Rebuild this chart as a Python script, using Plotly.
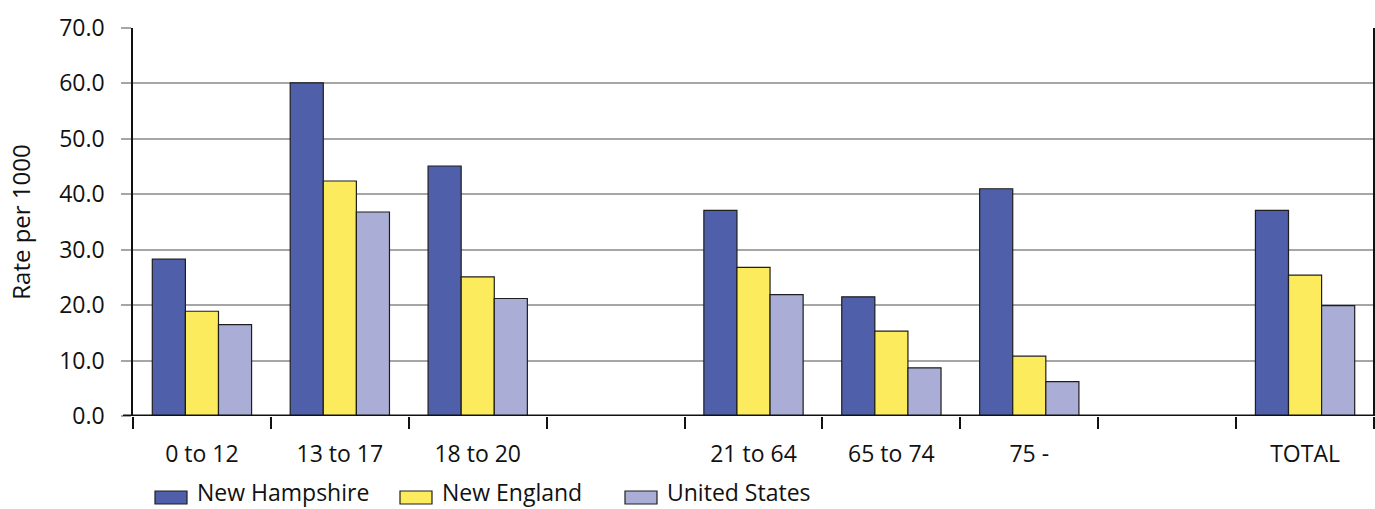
import plotly.graph_objects as go

# Age groups (blank slots separate the youth, adult and total groups)
categories = ["0 to 12", "13 to 17", "18 to 20", " ", "21 to 64", "65 to 74", "75 -", "  ", "TOTAL"]

new_hampshire = [28.3, 60.1, 45.1, None, 37.1, 21.5, 41.0, None, 37.1]
new_england = [18.9, 42.4, 25.1, None, 26.8, 15.3, 10.8, None, 25.4]
united_states = [16.5, 36.8, 21.2, None, 21.9, 8.7, 6.2, None, 19.9]

series_names = ["New Hampshire", "New England", "United States"]
series_colors = ["#4f5fa9", "#fdeb5e", "#aaaed6"]

y_ticks = [0, 10, 20, 30, 40, 50, 60, 70]
y_tick_text = ["0.0", "10.0", "20.0", "30.0", "40.0", "50.0", "60.0", "70.0"]

FONT = "Open Sans"
INK = "#111111"
OUTLINE = dict(color="#1e1e1e", width=1.2)

W, H = 1375, 509
ML, MR, MT, MB = 133, 1, 28, 93
PW, PH = W - ML - MR, H - MT - MB


def px_x(px):
    """Pixel column -> paper x."""
    return (px - ML) / PW


def px_y(py):
    """Pixel row -> paper y."""
    return (H - MB - py) / PH


fig = go.Figure()
for name, vals, color in zip(series_names,
                             [new_hampshire, new_england, united_states],
                             series_colors):
    fig.add_trace(go.Bar(x=categories, y=vals, name=name, showlegend=False,
                         marker=dict(color=color, line=OUTLINE)))

fig.update_layout(
    width=W, height=H,
    margin=dict(l=ML, r=MR, t=MT, b=MB),
    plot_bgcolor="white", paper_bgcolor="white",
    barmode="group", bargap=0.28, bargroupgap=0,
    font=dict(family=FONT, size=23, color=INK),
    showlegend=False,
)

fig.update_xaxes(
    type="category", range=[-0.5, 8.5],
    tickson="boundaries", ticks="outside", ticklen=12, tickwidth=2, tickcolor=INK,
    showgrid=False, showline=False, tickfont=dict(size=23),
    ticklabelstandoff=22,
)

fig.update_yaxes(
    range=[0, 70], tickvals=y_ticks, ticktext=y_tick_text,
    ticks="outside", ticklen=10, tickwidth=2, tickcolor="#a6a6a6",
    showgrid=True, gridcolor="#a6a6a6", gridwidth=2,
    zeroline=False, showline=True, linecolor=INK, linewidth=1.5,
    tickfont=dict(size=23), ticklabelstandoff=12,
    title=dict(text="Rate per 1000", font=dict(size=24), standoff=22),
)

# Baseline: heavy black rule extended left through the tick area
fig.add_shape(type="line", xref="paper", yref="y", x0=px_x(123), x1=1, y0=0, y1=0,
              line=dict(color=INK, width=3), layer="above")
# Right frame edge
fig.add_shape(type="line", xref="paper", yref="paper", x0=1, x1=1, y0=0, y1=1,
              line=dict(color=INK, width=2), layer="above")

# Legend row below the axis: wide swatches followed by labels
legend_left = [155, 400, 625]
for left, name, color in zip(legend_left, series_names, series_colors):
    fig.add_shape(type="rect", xref="paper", yref="paper",
                  x0=px_x(left), x1=px_x(left + 32), y0=px_y(504), y1=px_y(491),
                  fillcolor=color, line=dict(color="#1e1e1e", width=1.2))
    fig.add_annotation(text=name, xref="paper", yref="paper",
                       x=px_x(left + 41), y=px_y(492), xanchor="left", yanchor="middle",
                       showarrow=False, font=dict(size=23, color=INK),
                       borderpad=0)

fig.write_html("out.html")
